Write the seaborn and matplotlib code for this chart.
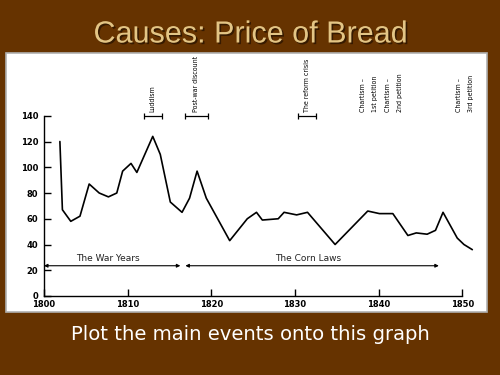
import matplotlib
matplotlib.use("Agg")
import matplotlib.pyplot as plt
import matplotlib.patheffects as pe
from matplotlib.patches import Rectangle
import numpy as np
import pandas as pd
import seaborn as sns

# price of bread
years = [1801.9, 1802.2, 1803.2, 1804.3, 1805.4, 1806.6, 1807.7, 1808.7, 1809.4, 1810.4,
         1811.1, 1813.0, 1813.9, 1815.1, 1816.5, 1817.4, 1818.3, 1819.4, 1822.2, 1824.3,
         1825.4, 1826.1, 1828.0, 1828.7, 1830.2, 1831.5, 1834.8, 1838.7, 1840.1, 1841.7,
         1843.5, 1844.5, 1845.8, 1846.8, 1847.7, 1849.4, 1850.2, 1851.2]
price = [120, 67, 58, 62, 87, 80, 77, 80, 97, 103,
         96, 124, 110, 73, 65, 76, 97, 76, 43, 60,
         65, 59, 60, 65, 63, 65, 40, 66, 64, 64,
         47, 49, 48, 51, 65, 45, 40, 36]

# events with a time span bar
span_labels = ["Luddism", "Post-war discount", "The reform crisis"]
span_start = [1811.9, 1816.8, 1830.4]
span_end = [1814.1, 1819.6, 1832.5]

# events without a bar
note_labels = ["Chartism –", "1st petition", "Chartism –", "2nd petition", "Chartism –", "3rd petition"]
note_years = [1838.1, 1839.6, 1841.1, 1842.6, 1849.6, 1851.0]

# periods
period_labels = ["The War Years", "The Corn Laws"]
period_start = [1800.0, 1816.9]
period_end = [1816.3, 1847.2]

xticks = [1800, 1810, 1820, 1830, 1840, 1850]
yticks = [0, 20, 40, 60, 80, 100, 120, 140]

sns.set_theme(style="ticks")
plt.rcParams["font.family"] = ["DejaVu Sans"]

bg = "#663300"
fig = plt.figure(figsize=(5, 3.75), dpi=100, facecolor=bg)

# white panel behind the chart
fig.patches.append(Rectangle((6 / 500, 1 - 312 / 375), 481 / 500, 259 / 375,
                             transform=fig.transFigure, facecolor="white",
                             edgecolor="#b0b0b0", linewidth=1.2, zorder=-10))

ax = fig.add_axes([0.088, 0.2107, 0.870, 0.635])
ax.set_facecolor("none")

df = pd.DataFrame({"year": years, "price": price})
sns.lineplot(data=df, x="year", y="price", ax=ax, color="black", linewidth=1.2)

ax.set_xlim(1800, 1852)
ax.set_ylim(0, 185)
ax.set_xticks(xticks)
ax.set_yticks(yticks)
ax.set_xlabel("")
ax.set_ylabel("")
for s in ["top", "right"]:
    ax.spines[s].set_visible(False)
ax.spines["left"].set_bounds(0, 140)
ax.spines["bottom"].set_bounds(1800, 1850)
for s in ["left", "bottom"]:
    ax.spines[s].set_color("black")
    ax.spines[s].set_linewidth(1.0)
ax.tick_params(direction="in", length=5, width=1.0, colors="black", labelsize=6)
ax.tick_params(axis="x", pad=3)
ax.tick_params(axis="y", pad=4)
for lab in ax.get_xticklabels() + ax.get_yticklabels():
    lab.set_fontweight("bold")

# span bars and labels
for lab, a, b in zip(span_labels, span_start, span_end):
    mid = (a + b) / 2
    ax.errorbar(mid, 140, xerr=(b - a) / 2, fmt="none", ecolor="black",
                elinewidth=0.9, capsize=2.5, capthick=0.9)
    ax.text(mid, 143, lab, rotation=90, ha="center", va="bottom", fontsize=5,
            fontstretch="condensed", color="black")

for lab, yr in zip(note_labels, note_years):
    ax.text(yr, 143, lab, rotation=90, ha="center", va="bottom", fontsize=5,
            fontstretch="condensed", color="black")

# period arrows
for lab, a, b in zip(period_labels, period_start, period_end):
    ax.annotate("", xy=(a, 23.5), xytext=(b, 23.5),
                arrowprops=dict(arrowstyle="<|-|>", color="black", lw=0.8,
                                mutation_scale=5, shrinkA=0, shrinkB=0))
    ax.text((a + b) / 2 - 0.5, 25.5, lab, ha="center", va="bottom", fontsize=6.5,
            color="#222222")

# slide title and caption
fig.text(0.5, 0.908, "Causes: Price of Bread", ha="center", va="center",
         fontsize=22, color="#e3c585", family="Liberation Sans",
         path_effects=[pe.withSimplePatchShadow(offset=(1.2, -1.2), shadow_rgbFace="#2a1400", alpha=0.8)])
fig.text(0.5, 0.108, "Plot the main events onto this graph", ha="center", va="center",
         fontsize=14.1, color="white", family="DejaVu Sans")

fig.savefig("out.png", dpi=100, facecolor=bg)
